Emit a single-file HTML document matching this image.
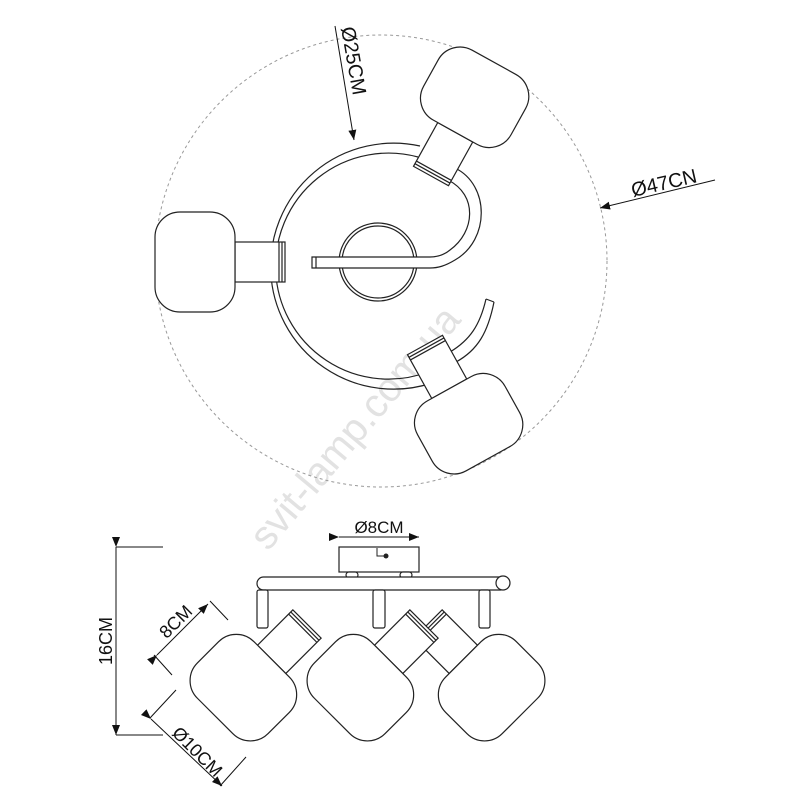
<!DOCTYPE html>
<html><head><meta charset="utf-8"><style>body{margin:0;background:#fff}svg{display:block}</style></head>
<body>
<svg width="800" height="800" viewBox="0 0 800 800" xmlns="http://www.w3.org/2000/svg" font-family="Liberation Sans, sans-serif">
<defs>
<g id="lamp" fill="#fff" stroke="#222" stroke-width="1.2">
<rect x="-50" y="-20" width="50" height="40"/>
<line x1="-6" y1="-20" x2="-6" y2="20"/><line x1="-3" y1="-20" x2="-3" y2="20"/>
<rect x="-130" y="-50" width="80" height="100" rx="25"/>
</g>
<marker id="ar" markerWidth="10" markerHeight="8" refX="10" refY="4" orient="auto" markerUnits="userSpaceOnUse"><path d="M0,0 L10,4 L0,8z" fill="#111"/></marker>
</defs>
<text x="0" y="0" font-size="40" fill="#e2e2e2" transform="translate(268,552) rotate(-50)">svit-lamp.com.ua</text>
<circle cx="381" cy="261" r="226" fill="none" stroke="#999" stroke-width="1" stroke-dasharray="3,3"/>
<g fill="none" stroke="#222" stroke-width="1.2">
<path d="M420,146 A123,123 0 1 0 432,383"/>
<path d="M418,157 A113,113 0 1 0 428,372"/>
<circle cx="378" cy="262" r="39"/><circle cx="378" cy="262" r="36"/>
<path d="M455,168 C490,185 490,240 455,260 C445,266 438,268 430,268 L312,268 L312,257 L430,257 C438,257 444,255 450,250 C475,232 478,195 448,180" fill="#fff"/>
<line x1="316" y1="257" x2="316" y2="268"/>
<path d="M486,299 C480,325 470,340 450,352 M494,302 C488,332 478,350 456,362"/>
<line x1="486" y1="299" x2="494" y2="302"/>
</g>
<use href="#lamp" transform="translate(285,262)"/>
<use href="#lamp" transform="translate(431,176) rotate(119)"/>
<use href="#lamp" transform="translate(425,345) rotate(-119)"/>
<line x1="335" y1="26" x2="354" y2="140" stroke="#111" stroke-width="1" marker-end="url(#ar)"/>
<text font-size="20" fill="#111" transform="translate(341,28) rotate(80)">Ø25CM</text>
<line x1="715" y1="180" x2="600" y2="208" stroke="#111" stroke-width="1" marker-end="url(#ar)"/>
<text font-size="20" fill="#111" transform="translate(633,197) rotate(-13)">Ø47CN</text>
<!-- bottom view -->
<g fill="#fff" stroke="#222" stroke-width="1.2">
<rect x="339" y="547" width="80" height="25"/>
<rect x="346" y="572" width="12" height="6" rx="3"/><rect x="400" y="572" width="12" height="6" rx="3"/>
<rect x="257" y="577" width="250" height="13" rx="6.5"/>
<circle cx="503" cy="583" r="7"/>
<rect x="257" y="590" width="11" height="38" rx="2"/>
<rect x="373" y="590" width="12" height="38" rx="2"/>
<rect x="479" y="590" width="11" height="38" rx="2"/>
</g>
<path d="M377,548 L377,556 L384,556" fill="none" stroke="#222"/><circle cx="386" cy="556" r="2.5" fill="#222"/>
<use href="#lamp" transform="translate(428,624) rotate(-135)"/>
<use href="#lamp" transform="translate(424,624) rotate(-45)"/>
<use href="#lamp" transform="translate(307,624) rotate(-45)"/>
<g stroke="#111" stroke-width="1" fill="none">
<line x1="339" y1="537" x2="419" y2="537" marker-end="url(#ar)" marker-start="url(#ar)"/>
<line x1="116" y1="547" x2="163" y2="547"/><line x1="116" y1="735" x2="163" y2="735"/>
<line x1="116" y1="547" x2="116" y2="735" marker-end="url(#ar)" marker-start="url(#ar)"/>
<line x1="210" y1="601" x2="228" y2="620"/><line x1="154" y1="655" x2="172" y2="675"/>
<line x1="157" y1="655" x2="208" y2="604" marker-end="url(#ar)" marker-start="url(#ar)"/>
<line x1="150" y1="718" x2="176" y2="690"/><line x1="220" y1="786" x2="246" y2="757"/>
<line x1="151" y1="719" x2="222" y2="786" marker-end="url(#ar)" marker-start="url(#ar)"/>
</g>
<text x="379" y="533" font-size="17" fill="#111" text-anchor="middle">Ø8CM</text>
<text font-size="18" fill="#111" text-anchor="middle" transform="translate(112,641) rotate(-90)">16CM</text>
<text font-size="18" fill="#111" text-anchor="middle" transform="translate(180,626) rotate(-45)">8CM</text>
<text font-size="18" fill="#111" text-anchor="middle" transform="translate(193,756) rotate(45)">Ø10CM</text>
</svg>
</body></html>
